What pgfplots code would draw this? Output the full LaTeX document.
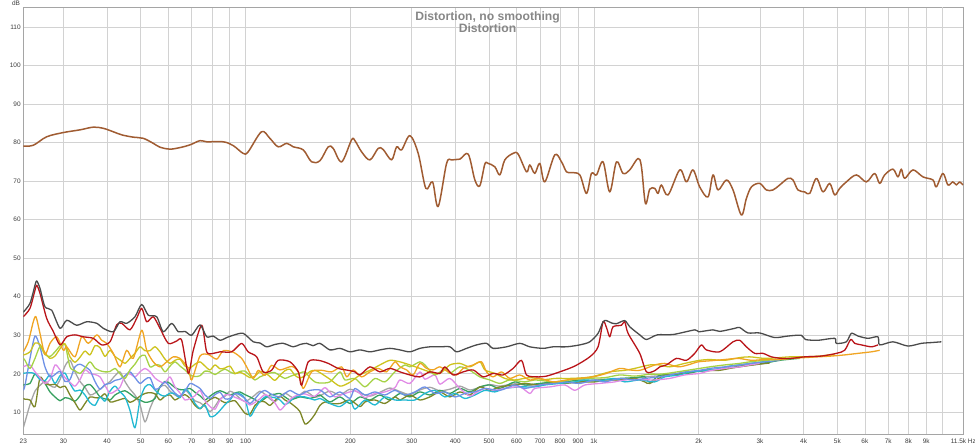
\documentclass[border=0pt]{standalone}
\usepackage{fontspec}
\setmainfont{Liberation Sans}
\usepackage{pgfplots}
\pgfplotsset{compat=1.18}
\definecolor{cBrown}{RGB}{160,92,50}
\definecolor{cTHD}{RGB}{75,75,75}
\definecolor{cHtwo}{RGB}{185,20,25}
\definecolor{cOrange}{RGB}{240,165,35}
\definecolor{cYellow}{RGB}{205,195,30}
\definecolor{cLGreen}{RGB}{165,210,70}
\definecolor{cBlue}{RGB}{110,145,230}
\definecolor{cPink}{RGB}{225,140,230}
\definecolor{cCyan}{RGB}{35,185,210}
\definecolor{cOlive}{RGB}{125,135,40}
\definecolor{cGreen}{RGB}{55,160,95}
\definecolor{cLGray}{RGB}{165,165,165}
\definecolor{cGrid}{RGB}{210,210,210}
\definecolor{cAxis}{RGB}{165,165,165}
\definecolor{cText}{RGB}{60,60,60}
\definecolor{cTitle}{RGB}{135,135,135}
\begin{document}
\begin{tikzpicture}
\path[use as bounding box] (0,0) rectangle (975bp,446bp);
\begin{axis}[
  at={(23.3bp,11.7bp)}, anchor=south west,
  scale only axis, width=940bp, height=427bp,
  xmode=log, xmin=23, xmax=11500, ymin=4.3, ymax=115.1,
  axis line style={draw=cAxis, line width=0.8bp},
  grid=major, major grid style={draw=cGrid, line width=0.6bp},
  major tick length=0pt, minor tick length=0pt,
  xtick={23,30,40,50,60,70,80,90,100,200,300,400,500,600,700,800,900,1000,2000,3000,4000,5000,6000,7000,8000,9000,11500},
  xticklabels={23,30,40,50,60,70,80,90,100,200,300,400,500,600,700,800,900,1k,2k,3k,4k,5k,6k,7k,8k,9k,11.5k Hz},
  extra x ticks={10000}, extra x tick labels={},
  extra x tick style={grid=major, major tick length=0pt},
  ytick={10,20,30,40,50,60,70,80,90,100,110},
  yticklabels={10,20,30,40,50,60,70,80,90,100,110},
  /pgf/number format/assume math mode=true,
  tick label style={font=\fontsize{6.5}{7}\selectfont, text=cText, inner sep=0pt},
  xticklabel style={yshift=-4bp},
  yticklabel style={xshift=-2.5bp},
  every axis plot/.append style={line join=round, line width=1.3bp, mark=none, smooth, tension=0.45},
]
% light gray
\addplot[cLGray] coordinates {(23.0,6.0)(23.26,7.5)(24.04,12.0)(24.85,15.5)(25.68,17.0)(26.54,18.0)(27.44,17.0)(28.36,16.5)(29.32,18.5)(30.30,22.0)(31.32,23.5)(32.37,20.5)(33.46,18.0)(34.58,16.5)(35.75,14.5)(36.95,15.0)(38.19,16.0)(39.47,17.0)(40.80,18.0)(42.17,19.5)(43.59,20.5)(45.05,18.0)(46.56,16.0)(48.12,14.5)(49.75,12.0)(51.42,7.5)(53.15,11.0)(54.94,14.0)(56.78,16.5)(58.69,17.0)(60.67,15.5)(62.71,14.5)(64.82,14.0)(67.00,15.8)(69.24,14.5)(71.57,13.0)(73.98,12.5)(76.47,11.5)(79.04,10.2)(81.70,11.6)(84.44,13.5)(87.28,14.2)(90.20,15.5)(93.23,14.8)(96.30,13.6)(99.53,12.8)(102.9,13.5)(106.4,14.5)(109.9,15.5)(113.6,14.7)(117.4,13.5)(121.3,12.8)(125.5,14.0)(129.7,15.0)(134.1,14.2)(138.6,13.6)(143.2,14.5)(148.0,15.5)(153.0,14.8)(158.1,13.9)(163.5,14.3)(174.6,15.5)(186.6,14.5)(199.3,16.0)(212.9,15.0)(227.5,14.2)(243.0,15.2)(259.6,16.3)(277.4,15.4)(296.3,14.6)(316.5,15.8)(338.1,16.5)(361.3,15.6)(385.9,16.0)(412.3,16.8)(440.5,15.8)(470.5,16.5)(502.7,17.2)(537.0,16.8)(593.0,17.4)(654.6,17.0)(722.9,17.6)(798.2,18.0)(881.3,17.7)(973.2,18.3)(1074.6,18.6)(1186.6,18.4)(1310.2,18.9)(1446.8,19.3)(1597.5,19.6)(1764,20.0)(1947.8,20.5)(2151,20.9)(2375.2,21.4)(2622,21.9)(2896.1,22.4)(3197,22.9)};
% green
\addplot[cGreen] coordinates {(23.0,17.1)(23.26,17.2)(24.04,17.5)(24.85,20.0)(25.68,19.0)(26.54,17.5)(27.44,15.3)(28.36,14.0)(29.32,13.0)(30.30,13.8)(31.32,13.5)(32.37,12.9)(33.46,14.3)(34.58,16.8)(35.75,17.2)(36.95,15.8)(38.19,14.0)(39.47,13.5)(40.80,13.2)(42.17,14.5)(43.59,15.2)(45.05,15.6)(46.56,14.8)(48.12,13.8)(49.75,13.2)(51.42,12.6)(53.15,12.8)(54.94,13.6)(56.78,16.6)(58.69,18.0)(60.67,17.5)(62.71,16.4)(64.82,15.9)(67.00,15.9)(69.24,16.2)(71.57,15.2)(73.98,14.3)(76.47,13.2)(79.04,14.2)(81.70,15.1)(84.44,15.6)(87.28,15.1)(90.20,14.5)(93.23,15.0)(96.30,15.3)(99.53,14.6)(102.9,14.0)(106.4,13.3)(109.9,12.7)(113.6,13.6)(117.4,14.5)(121.3,14.7)(125.5,14.9)(129.7,14.0)(134.1,13.2)(138.6,13.6)(143.2,14.0)(148.0,13.8)(153.0,13.6)(158.1,14.0)(163.5,14.5)(174.6,12.7)(186.6,14.0)(199.3,12.3)(212.9,14.0)(227.5,13.2)(243.0,14.5)(259.6,13.2)(277.4,14.9)(296.3,14.0)(316.5,15.3)(338.1,14.5)(361.3,15.7)(385.9,14.9)(412.3,16.2)(440.5,15.3)(470.5,16.6)(502.7,17.1)(537.0,16.2)(593.0,17.9)(633.5,17.1)(699.4,17.5)(772.3,17.9)(825.0,17.9)(911.1,18.4)(1005.9,18.2)(1074.6,18.5)(1186.6,18.8)(1310.2,19.0)(1399.8,19.2)(1446.8,17.8)(1545.6,19.6)(1706.7,19.9)(1884.5,20.2)(2013,20.8)(2223.3,21.1)(2455,21.5)(2622,22.0)(2896.1,22.5)(3197,23.0)(3416,23.5)(3771.6,23.9)(3898,24.0)};
% olive
\addplot[cOlive] coordinates {(23.0,13.6)(23.26,13.4)(24.04,13.2)(24.85,11.5)(25.68,19.0)(26.54,17.5)(27.44,17.1)(28.36,17.3)(29.32,16.4)(30.30,16.8)(31.32,14.5)(32.37,12.5)(33.46,10.6)(34.58,12.3)(35.75,14.0)(36.95,13.8)(38.19,13.8)(39.47,14.8)(40.80,12.7)(42.17,12.9)(43.59,13.3)(45.05,13.6)(46.56,12.6)(48.12,13.2)(49.75,14.2)(51.42,14.9)(53.15,15.1)(54.94,14.8)(56.78,13.2)(58.69,14.2)(60.67,14.5)(62.71,13.2)(64.82,14.0)(67.00,14.6)(69.24,13.6)(71.57,11.8)(73.98,10.9)(76.47,12.3)(79.04,13.3)(81.70,13.9)(84.44,13.2)(87.28,12.5)(90.20,12.8)(93.23,13.0)(96.30,11.5)(99.53,9.8)(102.9,9.5)(106.4,11.8)(109.9,12.8)(113.6,12.7)(117.4,11.8)(121.3,13.0)(125.5,14.2)(129.7,13.2)(134.1,12.5)(138.6,11.5)(143.2,10.2)(148.0,7.0)(153.0,7.8)(158.1,9.5)(163.5,11.8)(169.0,12.7)(174.6,12.3)(186.6,12.3)(199.3,13.2)(212.9,11.5)(220.1,12.7)(235.1,13.2)(251.2,12.3)(268.3,14.0)(277.4,13.2)(296.3,14.5)(316.5,13.2)(338.1,14.0)(361.3,15.3)(385.9,14.0)(412.3,15.3)(440.5,14.5)(470.5,16.6)(502.7,15.7)(537.0,16.6)(593.0,17.1)(633.5,17.5)(699.4,17.1)(772.3,17.7)(825.0,17.5)(911.1,17.9)(1005.9,17.9)(1074.6,18.4)(1186.6,18.4)(1310.2,18.8)(1399.8,17.9)(1446.8,17.5)(1597.5,19.6)(1764,19.9)(1884.5,20.5)(2080.6,20.8)(2298,20.9)(2455,21.4)(2710.1,22.0)(2993,22.5)(3197,22.8)};
% cyan
\addplot[cCyan] coordinates {(23.0,20.1)(23.26,20.2)(24.04,20.3)(24.85,20.0)(25.68,18.5)(26.54,18.2)(27.44,19.7)(28.36,17.5)(29.32,19.5)(30.30,20.2)(31.32,17.5)(32.37,15.5)(33.46,15.8)(34.58,14.5)(35.75,12.5)(36.95,11.8)(38.19,14.0)(39.47,12.9)(40.80,15.5)(42.17,16.8)(43.59,15.3)(45.05,14.0)(46.56,10.5)(48.12,6.0)(49.75,13.2)(51.42,16.6)(53.15,17.2)(54.94,15.8)(56.78,14.6)(58.69,14.2)(60.67,15.0)(62.71,14.8)(64.82,13.8)(67.00,16.0)(69.24,14.9)(71.57,12.3)(73.98,11.0)(76.47,11.9)(79.04,8.9)(81.70,9.2)(84.44,10.5)(87.28,12.0)(90.20,13.2)(93.23,14.9)(96.30,14.8)(99.53,13.6)(102.9,9.0)(106.4,11.0)(109.9,12.8)(113.6,14.0)(117.4,14.0)(121.3,13.8)(125.5,13.2)(129.7,12.0)(134.1,12.8)(138.6,14.0)(148.0,14.0)(158.1,13.2)(163.5,13.6)(174.6,12.3)(186.6,11.5)(199.3,13.2)(206.0,10.8)(220.1,13.2)(235.1,11.9)(251.2,14.0)(268.3,13.2)(286.7,13.2)(306.3,13.2)(327.1,14.9)(349.5,15.7)(373.4,14.0)(398.9,14.9)(426.2,13.6)(455.3,14.5)(486.3,15.7)(519.6,15.3)(555.0,16.2)(612.9,16.6)(676.6,16.6)(722.9,17.1)(798.2,17.5)(881.3,17.9)(941.7,18.4)(1039.7,18.2)(1148.0,18.8)(1226.4,17.9)(1354.3,18.4)(1495.4,17.9)(1597.5,19.2)(1764,19.7)(1884.5,20.5)(2080.6,20.8)(2298,21.4)(2455,22.0)(2710.1,22.5)(2993,23.0)(3197,23.4)};
% pink
\addplot[cPink] coordinates {(23.0,21.8)(23.26,22.0)(24.04,22.3)(24.85,20.5)(25.68,19.0)(26.54,17.5)(27.44,18.5)(28.36,22.3)(29.32,21.0)(30.30,19.0)(31.32,17.8)(32.37,16.8)(33.46,18.5)(34.58,21.0)(35.75,20.1)(36.95,19.8)(38.19,19.2)(39.47,17.0)(40.80,14.9)(42.17,15.5)(43.59,16.5)(45.05,19.5)(46.56,20.0)(48.12,19.2)(49.75,20.5)(51.42,21.4)(53.15,20.5)(54.94,18.9)(56.78,18.0)(58.69,17.6)(60.67,19.2)(62.71,16.6)(64.82,15.0)(67.00,13.2)(69.24,13.6)(71.57,14.3)(73.98,15.7)(76.47,13.0)(79.04,11.5)(81.70,10.8)(84.44,13.2)(87.28,14.5)(90.20,14.5)(93.23,13.9)(96.30,13.4)(99.53,12.8)(102.9,11.9)(106.4,12.6)(109.9,13.5)(113.6,14.6)(117.4,14.0)(121.3,12.5)(125.5,10.6)(129.7,11.8)(134.1,13.3)(138.6,14.2)(143.2,14.6)(148.0,14.8)(153.0,14.3)(158.1,14.2)(163.5,15.3)(169.0,16.4)(174.6,15.2)(180.5,14.0)(192.9,14.9)(206.0,15.6)(212.9,14.9)(220.1,13.8)(235.1,14.9)(251.2,15.3)(268.3,16.4)(277.4,18.4)(296.3,17.5)(316.5,20.5)(327.1,18.6)(349.5,19.7)(361.3,17.3)(385.9,18.8)(412.3,16.2)(440.5,14.2)(455.3,14.9)(486.3,16.2)(519.6,15.7)(555.0,16.2)(612.9,16.6)(654.6,14.9)(676.6,16.2)(747.2,16.6)(825.0,17.1)(881.3,15.7)(941.7,17.1)(1039.7,17.5)(1148.0,17.9)(1226.4,18.4)(1354.3,18.5)(1495.4,18.4)(1651.2,18.8)(1823.3,19.7)(2013,20.1)(2151,20.8)(2375.2,21.4)(2622,21.8)(2802,22.3)(2993,22.7)};
% blue
\addplot[cBlue] coordinates {(23.0,15.7)(23.26,17.0)(24.04,24.0)(24.85,29.8)(25.68,27.0)(26.54,21.8)(27.44,19.2)(28.36,19.8)(29.32,20.6)(30.30,18.0)(31.32,18.5)(32.37,21.8)(33.46,22.5)(34.58,21.8)(35.75,20.9)(36.95,18.0)(38.19,16.0)(39.47,17.2)(40.80,17.5)(42.17,18.3)(43.59,18.6)(45.05,19.5)(46.56,20.5)(48.12,19.0)(49.75,17.5)(51.42,18.5)(53.15,19.0)(54.94,16.0)(56.78,16.5)(58.69,17.9)(60.67,16.5)(62.71,15.0)(64.82,14.2)(67.00,15.5)(69.24,17.5)(71.57,17.0)(73.98,16.2)(76.47,14.5)(79.04,13.6)(81.70,14.6)(84.44,15.2)(87.28,13.5)(90.20,13.6)(93.23,14.9)(96.30,14.5)(99.53,13.6)(102.9,12.3)(106.4,13.5)(109.9,15.0)(113.6,15.7)(117.4,14.9)(121.3,14.3)(125.5,14.0)(129.7,14.9)(134.1,15.7)(138.6,15.0)(143.2,14.5)(148.0,15.2)(153.0,15.7)(163.5,15.8)(174.6,14.0)(186.6,15.3)(199.3,13.6)(206.0,16.2)(220.1,14.5)(235.1,15.3)(251.2,14.5)(268.3,15.7)(286.7,14.5)(306.3,15.3)(327.1,16.6)(349.5,14.9)(373.4,15.3)(398.9,14.0)(426.2,14.9)(455.3,15.3)(486.3,16.2)(537.0,15.7)(593.0,17.1)(633.5,16.2)(699.4,17.1)(772.3,17.5)(825.0,17.9)(911.1,17.5)(1005.9,18.4)(1074.6,17.9)(1186.6,18.8)(1310.2,18.4)(1399.8,18.8)(1545.6,19.2)(1651.2,19.7)(1823.3,20.5)(2013,20.9)(2151,21.4)(2375.2,21.8)(2622,22.3)(2802,22.7)(3093.6,23.1)(3416,23.5)};
% light green
\addplot[cLGreen] coordinates {(23.0,24.0)(23.26,23.5)(24.04,21.4)(24.85,24.0)(25.68,27.0)(26.54,25.0)(27.44,24.5)(28.36,25.7)(29.32,27.2)(30.30,27.6)(31.32,21.8)(32.37,20.8)(33.46,20.1)(34.58,21.5)(35.75,23.1)(36.95,21.5)(38.19,20.8)(39.47,20.5)(40.80,20.6)(42.17,21.4)(43.59,20.0)(45.05,18.8)(46.56,21.0)(48.12,22.5)(49.75,24.4)(51.42,24.8)(53.15,21.8)(54.94,22.3)(56.78,22.2)(58.69,20.5)(60.67,22.0)(62.71,23.1)(64.82,22.0)(67.00,21.0)(69.24,19.7)(71.57,19.3)(73.98,19.5)(76.47,20.7)(79.04,20.5)(81.70,19.8)(84.44,20.6)(87.28,21.2)(90.20,20.5)(93.23,20.0)(96.30,20.6)(99.53,20.7)(102.9,19.5)(106.4,18.4)(109.9,19.2)(113.6,19.7)(117.4,20.2)(121.3,20.3)(125.5,19.5)(129.7,18.8)(134.1,19.3)(138.6,19.8)(143.2,20.2)(148.0,20.5)(153.0,19.0)(158.1,17.9)(163.5,17.6)(174.6,17.9)(186.6,20.5)(192.9,18.4)(206.0,18.8)(220.1,16.6)(235.1,18.8)(251.2,17.9)(268.3,20.5)(286.7,22.3)(296.3,21.8)(316.5,23.1)(327.1,22.3)(349.5,19.7)(373.4,21.4)(385.9,20.1)(412.3,21.8)(440.5,20.9)(470.5,19.2)(502.7,18.4)(537.0,17.5)(573.7,18.4)(633.5,17.9)(676.6,18.4)(772.3,17.9)(852.7,18.4)(941.7,18.8)(1074.6,19.0)(1186.6,19.7)(1310.2,19.4)(1446.8,19.9)(1545.6,19.9)(1651.2,20.2)(1823.3,20.8)(2013,21.4)(2151,21.8)(2375.2,22.3)(2622,22.7)(2802,23.1)(3093.6,23.5)(3416,23.7)(3649,24.0)(3898,24.2)};
% yellow
\addplot[cYellow] coordinates {(23.0,24.9)(23.26,25.0)(24.04,25.7)(24.85,28.0)(25.68,27.6)(26.54,25.5)(27.44,24.0)(28.36,24.6)(29.32,26.5)(30.30,27.8)(31.32,24.4)(32.37,23.0)(33.46,24.3)(34.58,25.9)(35.75,24.9)(36.95,27.3)(38.19,26.8)(39.47,24.5)(40.80,26.1)(42.17,24.5)(43.59,23.6)(45.05,22.7)(46.56,24.0)(48.12,25.3)(49.75,27.0)(51.42,26.0)(53.15,26.0)(54.94,27.0)(56.78,25.7)(58.69,23.8)(60.67,22.7)(62.71,23.5)(64.82,23.8)(67.00,22.0)(69.24,21.5)(71.57,22.5)(73.98,23.1)(76.47,22.0)(79.04,21.0)(81.70,22.3)(84.44,21.3)(87.28,21.5)(90.20,22.0)(93.23,20.1)(96.30,20.4)(99.53,19.8)(102.9,19.0)(106.4,19.4)(109.9,20.6)(113.6,20.3)(117.4,19.3)(121.3,18.3)(125.5,19.6)(129.7,20.8)(134.1,21.2)(138.6,19.6)(143.2,18.9)(148.0,19.5)(153.0,20.6)(158.1,20.9)(163.5,20.3)(174.6,18.6)(186.6,16.8)(199.3,17.8)(212.9,19.7)(227.5,20.9)(243.0,22.3)(259.6,23.5)(277.4,23.1)(296.3,22.3)(316.5,21.4)(338.1,20.5)(361.3,20.1)(385.9,22.3)(412.3,22.7)(440.5,21.8)(470.5,23.1)(486.3,21.0)(519.6,20.1)(555.0,18.8)(593.0,18.4)(654.6,19.0)(722.9,18.5)(772.3,18.8)(852.7,18.8)(941.7,19.0)(1005.9,19.4)(1110.7,20.5)(1226.4,20.9)(1310.2,21.4)(1446.8,22.3)(1545.6,22.3)(1651.2,21.8)(1823.3,22.7)(2013,23.5)(2151,23.7)(2375.2,23.5)(2622,24.2)(2802,24.4)(3093.6,24.0)(3416,24.2)(3649,24.4)(4029,24.4)(4449,24.6)(4753,24.9)(4912.7,24.9)};
% orange
\addplot[cOrange] coordinates {(23.0,25.7)(23.77,28.3)(24.57,33.5)(25.01,34.8)(25.68,30.5)(26.54,25.0)(27.44,27.9)(28.68,29.6)(29.97,26.1)(30.65,27.0)(32.37,24.4)(33.84,29.6)(35.35,27.9)(37.37,30.1)(38.62,28.7)(39.92,27.9)(41.70,25.3)(43.59,21.8)(45.56,26.1)(47.58,24.0)(50.31,31.3)(52.0,26.1)(54.32,23.1)(56.78,21.8)(59.35,23.1)(62.0,24.4)(64.82,24.0)(68.48,21.4)(70.02,18.4)(73.98,24.6)(78.15,25.0)(82.62,23.8)(86.30,26.0)(92.18,25.6)(97.39,24.0)(100.7,21.8)(105.2,18.8)(108.7,20.9)(113.6,19.6)(118.7,22.2)(125.5,21.0)(135.6,21.9)(141.7,20.5)(146.4,16.2)(154.7,20.5)(165.3,20.9)(176.6,20.5)(188.7,21.8)(195.1,19.2)(203.7,21.0)(215.3,19.2)(227.5,20.5)(240.3,21.4)(254.0,20.5)(268.3,23.1)(277.4,21.8)(290.0,21.0)(302.8,19.7)(316.5,22.7)(330.8,21.4)(345.5,21.0)(361.3,21.8)(381.7,20.5)(403.4,19.7)(421.4,21.4)(450.2,22.3)(475.8,23.1)(491.8,20.5)(513.8,19.2)(543.1,20.5)(573.7,18.8)(612.9,19.7)(654.6,18.4)(699.4,18.8)(763.6,17.9)(834.4,18.4)(911.1,18.8)(994.6,19.2)(1086.8,20.1)(1186.6,21.4)(1267.6,21.0)(1354.3,20.9)(1446.8,21.8)(1495.4,22.3)(1597.5,22.7)(1744.3,21.8)(1863.5,22.3)(1990.8,23.1)(2175.3,23.4)(2375.2,23.7)(2593.4,24.0)(2833.7,23.5)(3093.6,23.7)(3377.3,23.7)(3690.2,24.0)(4029.0,24.2)(4399.9,24.4)(4806.7,24.6)(5248.6,24.9)(5731.0,25.3)(6262.0,25.7)(6615,26.1)};
% H2 red
\addplot[cHtwo] coordinates {(23.0,34.8)(24.04,37.0)(24.85,41.7)(25.13,43.0)(25.68,40.9)(26.84,34.4)(28.04,31.0)(29.32,27.5)(30.65,29.6)(32.37,30.1)(34.20,29.6)(36.54,29.2)(38.62,27.5)(40.80,28.3)(42.65,32.7)(44.08,33.1)(46.56,31.4)(48.67,34.4)(50.31,37.0)(52.0,33.5)(54.32,34.8)(56.78,31.8)(59.98,27.9)(63.42,28.5)(65.55,28.7)(68.48,20.1)(70.76,26.1)(74.82,32.6)(77.33,25.7)(80.78,25.3)(84.44,25.7)(91.22,25.7)(97.39,27.9)(101.7,25.7)(107.6,24.4)(112.3,20.5)(118.7,20.9)(124.0,23.5)(134.1,23.1)(141.7,20.5)(144.8,17.0)(151.3,23.1)(161.6,23.5)(172.7,22.7)(184.4,21.4)(197.1,20.9)(206.0,20.5)(212.9,19.7)(227.5,21.8)(243.0,20.5)(259.6,21.4)(277.4,20.5)(296.3,19.7)(316.5,19.2)(338.1,20.5)(361.3,20.1)(373.4,21.8)(394.4,19.7)(421.4,20.5)(450.2,21.0)(480.9,19.2)(513.8,20.1)(548.8,19.7)(586.3,21.4)(619.8,23.5)(640.7,19.7)(684.3,19.2)(731.1,19.4)(798.2,20.5)(881.3,22.0)(973.2,24.4)(1028,27.0)(1062.6,33.5)(1086.8,32.0)(1110.7,29.6)(1135,32.2)(1200,32.6)(1226.4,33.5)(1253.5,30.5)(1354.3,25.3)(1415.6,20.5)(1495.4,20.8)(1545.6,21.8)(1615.6,22.3)(1726.0,24.0)(1843.9,23.5)(1947.8,25.3)(2035.7,27.5)(2104,26.2)(2298,25.7)(2509.0,28.3)(2622,28.7)(2740.8,27.0)(2896.1,25.3)(3058.8,25.3)(3233.1,24.4)(3454.6,24.0)(3690.2,24.0)(4029.0,24.4)(4499.3,24.6)(4968.3,25.3)(5248.6,26.1)(5460.8,28.9)(5607.3,27.9)(5861.5,27.5)(6262.0,27.0)(6541.2,27.5)};
% THD dark gray
\addplot[cTHD] coordinates {(23.0,36.0)(24.04,38.3)(24.85,43.0)(25.13,44.1)(25.68,42.2)(26.54,37.4)(27.75,36.5)(29.32,31.8)(30.65,33.9)(32.74,32.6)(34.98,33.5)(37.37,33.1)(39.03,31.8)(41.70,30.9)(43.59,33.5)(45.56,33.1)(48.12,34.8)(50.31,38.0)(52.56,35.2)(55.56,34.8)(58.03,30.9)(61.36,33.1)(64.09,30.9)(67.0,31.0)(70.02,30.0)(73.98,32.7)(77.33,29.6)(80.63,29.8)(84.44,28.7)(88.27,29.4)(92.18,30.0)(98.4,30.5)(105.2,28.3)(109.9,28.0)(114.9,27.0)(121.3,27.6)(128.3,27.9)(137.0,27.0)(143.2,27.6)(149.7,27.9)(156.1,27.3)(163.5,27.9)(174.6,26.2)(186.6,26.6)(199.3,25.7)(212.9,26.2)(227.5,25.7)(243.0,26.2)(259.6,26.6)(277.4,26.2)(296.3,25.7)(316.5,26.6)(338.1,27.0)(361.3,27.0)(385.9,27.0)(403.4,25.7)(431.0,26.6)(460.5,27.5)(491.8,27.9)(513.8,26.6)(561.3,27.0)(612.9,27.9)(654.6,27.0)(714.8,26.6)(763.6,27.0)(834.4,27.0)(911.1,27.5)(973.2,28.3)(1028,30.5)(1062.6,33.5)(1086.8,33.8)(1123,33.2)(1161.0,33.0)(1226.4,33.8)(1267.6,32.2)(1354.3,30.1)(1415.6,28.9)(1520,30.1)(1690,30.2)(1950,31.4)(2000,30.9)(2198,31.4)(2300,31.0)(2540,31.8)(2622,32.0)(2769.9,30.6)(2993,30.6)(3304.4,29.4)(3608.7,29.8)(3942.0,30.0)(4048.1,28.9)(4399.9,28.7)(4912.7,29.2)(4968.3,27.9)(5308.0,28.3)(5486.3,30.5)(5731.0,29.8)(6122.9,29.2)(6541.2,29.6)(6615,27.5)(7222.5,28.3)(7975.8,27.2)(8714.4,27.9)(9309.0,28.1)(9944.1,28.3)};
% fundamental brown
\addplot[cBrown, line width=1.5bp, tension=0.55] coordinates {(23.0,79.1)(24.57,79.3)(26.84,81.5)(29.97,82.6)(33.46,83.3)(36.54,84.0)(39.03,83.7)(41.70,82.8)(44.08,82.0)(47.58,81.4)(50.85,81.1)(54.32,79.8)(56.78,78.8)(60.67,78.3)(64.82,78.7)(69.24,79.4)(73.98,80.5)(77.33,80.2)(86.30,80.2)(92.18,79.2)(98.4,77.2)(101.7,77.6)(111.1,82.8)(117.4,81.1)(124.0,78.9)(131.2,79.8)(137.0,78.9)(146.4,78.1)(154.7,75.0)(163.5,75.3)(172.7,78.9)(178.4,78.5)(188.7,75.0)(201.5,80.7)(206.0,80.5)(215.3,77.6)(227.5,75.5)(240.3,78.5)(248.3,78.2)(262.5,75.5)(271.4,78.9)(280.5,78.1)(296.3,81.8)(313.0,77.2)(329.3,68.1)(344.2,69.8)(357.2,63.4)(377.7,74.6)(390.3,75.5)(412.3,75.7)(435.6,77.0)(455.3,70.3)(470.5,68.8)(486.3,74.4)(497.0,74.6)(519.6,73.7)(537.0,71.6)(555.0,75.5)(586.3,77.2)(606.1,77.0)(640.7,72.4)(654.6,74.2)(676.6,72.0)(699.4,74.6)(722.9,69.8)(772.3,76.8)(807.2,75.0)(834.4,72.4)(862.3,72.2)(911.1,71.6)(952.4,66.8)(984.2,72.0)(1017.3,71.6)(1062.6,75.0)(1110.7,67.2)(1161.0,75.0)(1212.7,72.0)(1267.6,72.9)(1339.1,75.9)(1369.6,73.7)(1406.3,64.2)(1446.8,67.9)(1495.4,68.1)(1528.4,66.8)(1563.1,69.0)(1632.8,66.4)(1764,72.9)(1843.9,69.8)(1926.0,72.9)(2013,68.5)(2126.5,65.9)(2198.3,71.6)(2272.3,67.7)(2402.1,70.3)(2509.0,67.7)(2651.6,61.2)(2740.8,65.5)(2833.7,68.5)(2993,69.4)(3128.6,67.7)(3267.3,67.7)(3416,69.0)(3608.7,70.7)(3729.3,70.3)(3854.8,67.7)(4029.0,67.2)(4165,66.8)(4353.7,70.7)(4546.9,67.2)(4753,69.4)(4912.7,66.4)(5078,68.1)(5308.0,69.8)(5670.8,71.6)(6058.6,69.8)(6400.0,72.0)(6615,69.4)(6837.3,71.6)(7222.5,73.1)(7465.6,71.1)(7635.3,73.1)(7803.7,70.7)(8243.5,72.9)(8806.6,71.1)(9407.5,70.3)(9622.0,68.5)(10049,72.0)(10388,69.0)(10736,69.8)(10981,69.0)(11223,69.8)(11470,69.0)};
\end{axis}
\node[anchor=base, font=\fontsize{12.2}{14}\selectfont\bfseries, text=cTitle, inner sep=0pt] at (487.5bp,425.3bp) {Distortion, no smoothing};
\node[anchor=base, font=\fontsize{12.2}{14}\selectfont\bfseries, text=cTitle, inner sep=0pt] at (487.5bp,413.3bp) {Distortion};
\node[font=\fontsize{6.5}{7}\selectfont, text=cText, inner sep=0pt] at (16bp,442.7bp) {dB};
\end{tikzpicture}
\end{document}
